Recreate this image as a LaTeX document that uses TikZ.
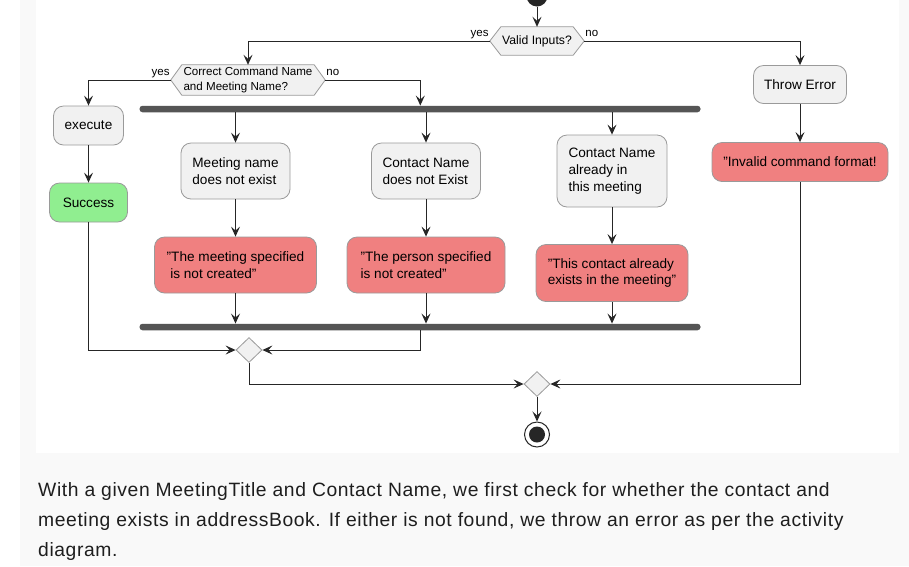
\documentclass[tikz,border=0pt]{standalone}
\usepackage{fontspec}
\setmainfont{Liberation Sans}
\newfontfamily\parafont[LetterSpace=3.1]{Liberation Sans}
\usetikzlibrary{arrows.meta,calc,shapes.geometric}
\pgfdeclarelayer{bg}
\pgfsetlayers{bg,main}
\definecolor{boxfill}{HTML}{F1F1F1}
\definecolor{boxline}{HTML}{9A9A9A}
\definecolor{redfill}{HTML}{F08080}
\definecolor{greenfill}{HTML}{90EE90}
\definecolor{lineC}{HTML}{262626}
\definecolor{barC}{HTML}{555555}
\definecolor{pagegray}{HTML}{F9F9F9}
\definecolor{paraC}{HTML}{1E1E1E}
\begin{document}
\begin{tikzpicture}[x=1pt,y=-1pt,
  box/.style={draw=boxline, fill=boxfill, rounded corners=10pt, line width=0.8pt,
    font=\fontsize{13.6}{16.8}\selectfont, align=left, inner sep=0pt, text=black},
  redbox/.style={box, fill=redfill},
  greenbox/.style={box, fill=greenfill},
  hextext/.style={inner sep=0pt, align=left, font=\fontsize{11.6}{15}\selectfont},
  hexline/.style={draw=boxline, fill=boxfill, line width=0.8pt},
  lbl/.style={inner sep=0pt, font=\fontsize{11.5}{13}\selectfont},
  arr/.style={draw=lineC, line width=1pt, -{Stealth[length=10pt,width=9pt,inset=4pt]}},
  bar/.style={fill=barC, draw=none, minimum width=561pt, minimum height=6.5pt, inner sep=0pt, rounded corners=3pt},
  dia/.style={diamond, draw=boxline, fill=boxfill, line width=0.8pt, inner sep=0pt, minimum width=26pt, minimum height=25pt},
  para/.style={anchor=base west, inner sep=0pt, text=paraC, font=\parafont\fontsize{19.3}{22}\selectfont}
]
\begin{pgfonlayer}{bg}
\fill[white] (0,0) rectangle (909,566);
\fill[pagegray] (20,0) rectangle (909,566);
\fill[white] (36,0) rectangle (899,453);
\end{pgfonlayer}
\useasboundingbox (0,0) rectangle (909,566);

% start
\node[circle, fill=lineC, inner sep=0pt, minimum size=21pt] (start) at (537,-4) {};

% hexagon 1
\node[hextext, font=\fontsize{12.2}{15}\selectfont, minimum width=72pt, minimum height=28pt] (h1) at (537,41) {Valid Inputs?};
\coordinate (h1w) at ([xshift=-11pt]h1.west);
\coordinate (h1e) at ([xshift=11pt]h1.east);
\begin{pgfonlayer}{bg}
\draw[hexline] (h1.north west) -- (h1.north east) -- (h1e) -- (h1.south east) -- (h1.south west) -- (h1w) -- cycle;
\end{pgfonlayer}
\node[lbl, anchor=base east] (y1) at ([shift={(-1,-5)}]h1w) {yes};
\node[lbl, anchor=base west] (n1) at ([shift={(1,-5)}]h1e) {no};

% hexagon 2
\node[hextext, minimum width=132pt, minimum height=30pt] (h2) at (248,80) {Correct Command Name\\and Meeting Name?};
\coordinate (h2w) at ([xshift=-11pt]h2.west);
\coordinate (h2e) at ([xshift=11pt]h2.east);
\begin{pgfonlayer}{bg}
\draw[hexline] (h2.north west) -- (h2.north east) -- (h2e) -- (h2.south east) -- (h2.south west) -- (h2w) -- cycle;
\end{pgfonlayer}
\node[lbl, anchor=base east] (y2) at ([shift={(-1,-5)}]h2w) {yes};
\node[lbl, anchor=base west] (n2) at ([shift={(1,-5)}]h2e) {no};

% boxes
\node[box, minimum width=70pt, minimum height=39pt] (exec) at (88.5,125.5) {execute};
\node[greenbox, minimum width=78pt, minimum height=39pt] (succ) at (88.5,202.5) {Success};
\node[box, minimum width=93pt, minimum height=38pt] (throw) at (800,84.5) {Throw Error};
\node[redbox, minimum width=176pt, minimum height=39pt] (inv) at (800,162) {"Invalid command format!};

\node[bar] (fork) at (420,109) {};
\node[bar] (join) at (420,327) {};
\coordinate (forkin) at ($(fork.north west)+(281,0)$);
\coordinate (joinout) at ($(join.south west)+(281,0)$);

\node[box, minimum width=109pt, minimum height=56pt] (mnne) at (235.5,171) {Meeting name\\does not exist};
\node[box, minimum width=109pt, minimum height=56pt] (cnne) at (426,171) {Contact Name\\does not Exist};
\node[box, minimum width=110pt, minimum height=72pt] (cnam) at (612,171) {Contact Name\\already in\\this meeting};

\node[redbox, minimum width=162pt, minimum height=56pt] (err1) at (235.5,265) {"The meeting specified\\\hspace{3.6pt}is not created"};
\node[redbox, minimum width=158pt, minimum height=56pt] (err2) at (426,265) {"The person specified\\is not created"};
\node[redbox, minimum width=152pt, minimum height=57pt] (err3) at (612,273) {"This contact already\\exists in the meeting"};

\node[dia] (m1) at (249,350) {};
\node[dia] (m2) at (537,384) {};

\node[circle, draw=lineC, line width=1pt, fill=white, inner sep=0pt, minimum size=25pt] (end) at (537,434.5) {};
\node[circle, fill=lineC, inner sep=0pt, minimum size=16pt] (endin) at (end.center) {};

% connectors
\draw[arr] (start) -- (h1.north);
\draw[arr] (h1w) -| (h2.north);
\draw[arr] (h1e) -| (throw.north);
\draw[arr] (h2w) -| (exec.north);
\draw[arr] (h2e) -| (forkin);
\draw[arr] (exec) -- (succ);
\draw[arr] (throw) -- (inv);

\draw[arr] (fork.south -| mnne.north) -- (mnne.north);
\draw[arr] (fork.south -| cnne.north) -- (cnne.north);
\draw[arr] (fork.south -| cnam.north) -- (cnam.north);
\draw[arr] (mnne) -- (err1);
\draw[arr] (cnne) -- (err2);
\draw[arr] (cnam) -- (err3);
\draw[arr] (err1.south) -- (err1.south |- join.north);
\draw[arr] (err2.south) -- (err2.south |- join.north);
\draw[arr] (err3.south) -- (err3.south |- join.north);

\draw[arr] (joinout) |- (m1.east);
\draw[arr] (succ.south) |- (m1.west);
\draw[arr] (m1.south) |- (m2.west);
\draw[arr] (inv.south) |- (m2.east);
\draw[arr] (m2.south) -- (end.north);

% paragraph
\node[para] (p1) at (38,496) {With a given MeetingTitle and Contact Name, we first check for whether the contact and};
\node[para] (p2) at (38,526) {meeting exists in addressBook. If either is not found, we throw an error as per the activity};
\node[para] (p3) at (38,556) {diagram.};
\end{tikzpicture}
\end{document}
